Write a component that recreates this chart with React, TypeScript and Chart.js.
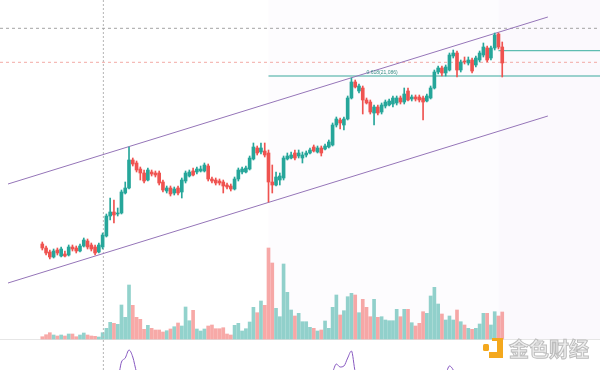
import React, { useEffect, useRef } from "react";
import { Chart, registerables } from "chart.js";

Chart.register(...registerables);

// ---- candle data (one entry per bar, oldest first) ----
const openP = [17726,17646,17566,17466,17606,17486,17526,17506,17666,17646,
  17586,17686,17786,17706,17666,17566,17666,17886,18286,18366,
  18326,18346,18746,18846,19406,19346,19226,19146,19006,19166,
  19146,19146,18966,18786,18846,18746,18846,18766,18986,19086,
  19186,19166,19186,19186,19286,19026,19006,18986,18966,18906,
  18886,18826,19026,19166,19166,19226,19426,19646,19566,19586,
  19546,18966,18906,19006,19046,19426,19446,19546,19486,19446,
  19506,19546,19666,19566,19646,19626,19666,19706,20106,20206,
  20106,20226,20646,20966,20786,20846,20606,20566,20346,20466,
  20366,20486,20506,20526,20546,20646,20566,20786,20626,20666,
  20666,20646,20586,20646,20846,21166,21246,21146,21206,21486,
  21546,21206,21386,21346,21406,21306,21406,21506,21646,21446,
  21646,21926,21666];

const highP = [17766,17686,17606,17626,17646,17666,17586,17706,17706,17686,
  17726,17846,17826,17746,17706,17746,17946,18326,18646,18606,
  18446,18806,18966,19666,19446,19386,19266,19206,19246,19206,
  19186,19186,19006,18886,18886,18866,18886,19046,19186,19206,
  19246,19266,19286,19346,19326,19066,19046,19026,19006,18946,
  18926,19066,19246,19266,19286,19486,19746,19686,19746,19746,
  19606,19306,19166,19146,19486,19546,19566,19606,19606,19566,
  19586,19646,19706,19686,19686,19726,19806,20146,20266,20246,
  20266,20686,21046,21006,20926,20886,20646,20606,20506,20506,
  20546,20606,20626,20686,20686,20686,20846,20846,20706,20706,
  20706,20686,20726,20886,21206,21286,21286,21306,21546,21606,
  21586,21406,21466,21466,21446,21486,21586,21746,21686,21686,
  21946,21946,21766];

const lowP = [17606,17506,17426,17446,17506,17466,17466,17486,17586,17546,
  17566,17666,17626,17586,17506,17546,17626,17866,18206,18146,
  18286,18326,18726,18826,19286,19166,19006,18946,18986,19086,
  19066,18906,18766,18746,18686,18706,18706,18646,18946,19066,
  19086,19126,19166,19166,18986,18946,18906,18906,18746,18826,
  18786,18806,18986,19126,19146,19206,19406,19506,19526,19466,
  18566,18746,18886,18906,19006,19406,19426,19406,19446,19346,
  19466,19526,19566,19546,19486,19606,19646,19686,20066,20026,
  20006,20206,20626,20846,20746,20326,20526,20326,20106,20306,
  20326,20446,20486,20466,20506,20526,20526,20586,20586,20586,
  20566,20206,20566,20626,20826,21126,21086,21086,21186,21446,
  21066,21166,21326,21306,21146,21266,21366,21466,21366,21406,
  21606,21626,21066];

const closeP = [17646,17546,17466,17586,17546,17626,17486,17666,17626,17586,
  17686,17806,17666,17626,17546,17706,17906,18286,18366,18306,
  18346,18766,18846,19406,19326,19206,19146,18986,19206,19126,
  19106,18946,18806,18846,18726,18826,18746,19006,19146,19166,
  19106,19226,19226,19306,19026,18986,18946,18946,18886,18866,
  18826,19026,19206,19226,19246,19446,19666,19546,19646,19506,
  18966,18906,19066,19086,19446,19486,19506,19446,19546,19506,
  19546,19606,19586,19646,19546,19686,19766,20106,20226,20146,
  20226,20646,20966,20866,20886,20606,20546,20366,20466,20346,
  20506,20566,20586,20646,20646,20566,20726,20606,20666,20626,
  20606,20566,20686,20846,21166,21246,21146,21266,21506,21546,
  21206,21366,21366,21406,21186,21446,21546,21666,21406,21646,
  21906,21666,21346];

const volume = [23,43,63,40,30,40,30,50,50,23,
  40,60,40,30,27,20,63,107,167,157,
  147,340,217,540,337,217,197,97,137,107,
  90,90,70,83,100,123,160,130,320,183,
  287,100,80,100,130,140,103,103,113,50,
  40,137,157,80,103,170,317,263,380,337,
  910,760,307,223,750,467,290,230,257,173,
  173,117,107,80,90,180,107,317,440,240,
  283,423,457,440,263,397,317,223,397,217,
  223,190,183,183,297,223,297,297,163,130,
  157,273,257,430,517,350,250,190,230,190,
  290,173,140,107,97,107,150,257,257,140,
  273,230,270];

const oscillator = [48,45,42,44,43,47,45,49,47,45,
  48,52,48,46,43,47,52,56,57,54,
  52,68,72,80,73,58,52,47,50,48,
  47,42,39,41,38,41,39,46,49,50,
  48,50,51,53,44,42,41,41,39,38,
  37,43,48,50,51,55,58,55,56,53,
  40,39,44,45,52,54,55,52,54,53,
  54,55,53,55,52,54,52,58,66,63,
  64,72,79,58,50,46,45,41,44,42,
  45,46,47,49,50,48,52,47,48,47,
  46,45,48,52,57,55,53,56,64,60,
  50,52,51,52,47,50,53,56,50,54,
  58,50,45];

// ---- drawings (data coordinates: bar index, price) ----
const upperChannel = [{ x: -9.1, y: 18926 }, { x: 134.1, y: 22266 }];
const lowerChannel = [{ x: -9.1, y: 16946 }, { x: 134.1, y: 20286 }];
const fibLevel = 21086;
const fibStart = 60;
const fibLabel = "0.618(21,086)";
const fibLabelAt = 86;
const targetLevel = 21593;
const targetStart = 121;
const grayDashedLevel = 22040;
const redDashedLevel = 21360;
const markerIndex = 16.2;

const X_MIN = -11.22;
const X_MAX = 147.93;
const P_MIN = 15206;
const P_MAX = 22606;

const TEAL = "#26a69a";
const RED = "#ef5350";
const TEAL_VOL = "rgba(38,166,154,0.5)";
const RED_VOL = "rgba(239,83,80,0.5)";
const PURPLE = "#9575b8";

const decor = {
  id: "decor",
  beforeDatasetsDraw(chart: any) {
    const { ctx, scales, width } = chart;
    const xs = scales.x;
    const base = scales.yVol.getPixelForValue(0);
    const x0 = xs.getPixelForValue(fibStart);
    const x1 = xs.getPixelForValue(targetStart);
    ctx.save();
    ctx.fillStyle = "rgba(150,110,200,0.022)";
    ctx.fillRect(x0, 0, width - x0, base);
    ctx.fillStyle = "rgba(150,110,200,0.02)";
    ctx.fillRect(x1, 0, width - x1, base);
    ctx.strokeStyle = "#e6e6e6";
    ctx.lineWidth = 1;
    ctx.beginPath();
    ctx.moveTo(0, Math.round(base) + 0.5);
    ctx.lineTo(width, Math.round(base) + 0.5);
    ctx.stroke();
    ctx.restore();
  },
  afterDatasetsDraw(chart: any) {
    const { ctx, scales } = chart;
    ctx.save();
    // fib label
    ctx.font = "5px 'Liberation Sans', Arial, sans-serif";
    ctx.fillStyle = "#3b8f87";
    ctx.textBaseline = "alphabetic";
    ctx.fillText(fibLabel, scales.x.getPixelForValue(fibLabelAt), scales.y.getPixelForValue(fibLevel) - 2);

    // watermark logo
    ctx.fillStyle = "#f4a81d";
    ctx.fillRect(492, 338, 11, 3);
    ctx.fillRect(497, 338, 6, 20);
    ctx.fillRect(489, 352, 14, 6);
    ctx.beginPath();
    ctx.roundRect(483, 344, 6, 7, 1.5);
    ctx.fill();
    ctx.font = "bold 20px 'Noto Sans CJK SC', sans-serif";
    ctx.textBaseline = "middle";
    ctx.lineWidth = 1;
    ctx.fillStyle = "#efefef";
    ctx.strokeStyle = "#bdbdbd";
    ctx.fillText("金色财经", 509, 349);
    ctx.strokeText("金色财经", 509, 349);
    ctx.restore();
  },
};

export default function App() {
  const ref = useRef<HTMLCanvasElement>(null);

  useEffect(() => {
    const idx = closeP.map((_, i) => i);
    const up = idx.map((i) => closeP[i] >= openP[i]);
    const candleColor = up.map((u) => (u ? TEAL : RED));
    const volColor = up.map((u) => (u ? TEAL_VOL : RED_VOL));
    const hLine = (x0: number, y: number) => [{ x: x0, y }, { x: X_MAX, y }];

    const lineBase = {
      type: "line" as const,
      pointRadius: 0,
      borderWidth: 1,
      fill: false,
      tension: 0,
      yAxisID: "y",
    };

    const chart = new Chart(ref.current as HTMLCanvasElement, {
      type: "bar",
      data: {
        datasets: [
          {
            type: "bar",
            data: idx.map((i) => ({ x: i, y: volume[i] })) as any,
            backgroundColor: volColor,
            barThickness: 3,
            grouped: false,
            yAxisID: "yVol",
            order: 10,
          },
          {
            ...lineBase,
            data: hLine(X_MIN, grayDashedLevel),
            borderColor: "#a3a3a3",
            borderDash: [3, 3],
            order: 8,
          },
          {
            ...lineBase,
            data: hLine(X_MIN, redDashedLevel),
            borderColor: "#f3aaa5",
            borderDash: [3, 3],
            order: 8,
          },
          {
            ...lineBase,
            data: [{ x: markerIndex, y: P_MIN }, { x: markerIndex, y: P_MAX }],
            borderColor: "#b5b5b5",
            borderDash: [2, 2],
            order: 8,
          },
          {
            ...lineBase,
            data: hLine(fibStart, fibLevel),
            borderColor: "#3aa99d",
            borderWidth: 1.2,
            order: 7,
          },
          {
            ...lineBase,
            data: hLine(targetStart, targetLevel),
            borderColor: "#5dbcb1",
            borderWidth: 1.2,
            order: 7,
          },
          {
            ...lineBase,
            data: upperChannel,
            borderColor: PURPLE,
            order: 6,
          },
          {
            ...lineBase,
            data: lowerChannel,
            borderColor: PURPLE,
            order: 6,
          },
          {
            ...lineBase,
            data: idx.map((i) => ({ x: i, y: oscillator[i] })),
            borderColor: "#8657c0",
            cubicInterpolationMode: "monotone",
            yAxisID: "yOsc",
            order: 6,
          },
          {
            type: "bar",
            data: idx.map((i) => ({ x: i, y: [lowP[i], highP[i]] })) as any,
            backgroundColor: candleColor,
            barThickness: 1,
            grouped: false,
            yAxisID: "y",
            order: 3,
          },
          {
            type: "bar",
            data: idx.map((i) => ({ x: i, y: [openP[i], closeP[i]] })) as any,
            backgroundColor: candleColor,
            barThickness: 3,
            minBarLength: 1,
            grouped: false,
            yAxisID: "y",
            order: 2,
          },
        ] as any,
      },
      options: {
        responsive: false,
        animation: false,
        layout: { padding: 0 },
        plugins: { legend: { display: false }, tooltip: { enabled: false } },
        events: [],
        scales: {
          x: { type: "linear", min: X_MIN, max: X_MAX, offset: false, display: false },
          y: { type: "linear", min: P_MIN, max: P_MAX, display: false },
          yVol: { type: "linear", min: -310, max: 3390, display: false },
          yOsc: { type: "linear", min: 60, max: 430, display: false },
        },
      } as any,
      plugins: [decor],
    });
    return () => chart.destroy();
  }, []);

  return (
    <div style={{ position: "fixed", left: 0, top: 0, width: 600, height: 370, background: "#ffffff" }}>
      <canvas ref={ref} width={600} height={370} style={{ display: "block" }} />
    </div>
  );
}
